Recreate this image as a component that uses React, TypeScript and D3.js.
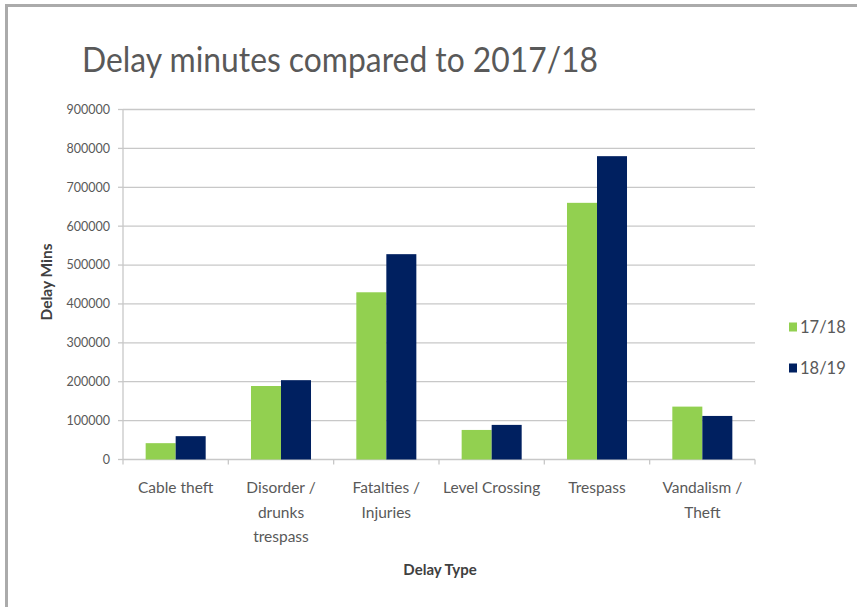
import React from "react";
import * as d3 from "d3";

// Delay minutes by delay type, two financial years
const categories: string[] = [
  "Cable theft",
  "Disorder /\ndrunks\ntrespass",
  "Fatalties /\nInjuries",
  "Level Crossing",
  "Trespass",
  "Vandalism /\nTheft",
];
const seriesNames: string[] = ["17/18", "18/19"];
const values1718: number[] = [42000, 189000, 430000, 76000, 660000, 136000];
const values1819: number[] = [60000, 204000, 528000, 89000, 780000, 112000];
const yTicks: number[] = [0, 100000, 200000, 300000, 400000, 500000, 600000, 700000, 800000, 900000];
const seriesColors: string[] = ["#92d050", "#002060"];

const W = 857;
const H = 607;
const plot = { left: 123, right: 755, top: 109.5, bottom: 459.5 };
const FONT = "Lato, 'Open Sans', sans-serif";
const TEXT = "#595959";

export default function App() {
  const x0 = d3.scaleBand<string>().domain(categories).range([plot.left, plot.right]).padding(0);
  const x1 = d3
    .scaleBand<string>()
    .domain(seriesNames)
    .range([0, x0.bandwidth()])
    .paddingInner(0)
    .paddingOuter(0.755);
  const y = d3.scaleLinear().domain([0, 900000]).range([plot.bottom, plot.top]);

  const seriesData = [values1718, values1819];
  const boundaries = [...categories.map((c) => x0(c) as number), plot.right];

  return (
    <svg
      width={W}
      height={H}
      style={{ position: "absolute", left: 0, top: 0, background: "#fff" }}
      fontFamily={FONT}
    >
      {/* frame edges */}
      <line x1={5} x2={W} y1={5.5} y2={5.5} stroke="#ababab" strokeWidth={3} />
      <line x1={6.5} x2={6.5} y1={4} y2={H} stroke="#ababab" strokeWidth={3} />

      <text x={82} y={72} fontSize={35} fill={TEXT} textLength={516} lengthAdjust="spacingAndGlyphs">
        Delay minutes compared to 2017/18
      </text>

      {/* gridlines and y ticks */}
      {yTicks.map((t) => (
        <g key={t}>
          {t > 0 && (
            <line x1={plot.left} x2={plot.right} y1={y(t)} y2={y(t)} stroke="#c8c8c8" strokeWidth={1.3} />
          )}
          <line x1={plot.left - 5} x2={plot.left} y1={y(t)} y2={y(t)} stroke="#c8c8c8" strokeWidth={1.3} />
          <text x={110} y={y(t)} dy="0.35em" textAnchor="end" fontSize={12.5} fill={TEXT}>
            {t}
          </text>
        </g>
      ))}

      {/* axes */}
      <line x1={plot.left} x2={plot.left} y1={plot.top} y2={plot.bottom} stroke="#c8c8c8" strokeWidth={1.3} />
      <line x1={plot.left} x2={plot.right} y1={plot.bottom} y2={plot.bottom} stroke="#c8c8c8" strokeWidth={1.3} />
      {boundaries.map((bx, i) => (
        <line key={i} x1={bx} x2={bx} y1={plot.bottom} y2={plot.bottom + 5} stroke="#c8c8c8" strokeWidth={1.3} />
      ))}

      {/* bars */}
      {seriesData.map((vals, si) =>
        vals.map((v, ci) => (
          <rect
            key={`${si}-${ci}`}
            x={(x0(categories[ci]) as number) + (x1(seriesNames[si]) as number)}
            y={y(v)}
            width={x1.bandwidth()}
            height={plot.bottom - y(v)}
            fill={seriesColors[si]}
          />
        ))
      )}

      {/* category labels */}
      {categories.map((c) => {
        const cx = (x0(c) as number) + x0.bandwidth() / 2;
        return (
          <text key={c} x={cx} y={493} textAnchor="middle" fontSize={15.5} fill={TEXT}>
            {c.split("\n").map((line, li) => (
              <tspan key={li} x={cx} dy={li === 0 ? 0 : 24.5}>
                {line}
              </tspan>
            ))}
          </text>
        );
      })}

      {/* axis titles */}
      <text x={440} y={575} textAnchor="middle" fontSize={15} fontWeight="bold" fill="#404040">
        Delay Type
      </text>
      <text
        transform="translate(52,282) rotate(-90)"
        textAnchor="middle"
        fontSize={15.5}
        fontWeight="bold"
        fill="#404040"
      >
        Delay Mins
      </text>

      {/* legend */}
      {seriesNames.map((s, i) => {
        const ly = 327 + i * 41;
        return (
          <g key={s}>
            <rect x={789} y={ly - 4.5} width={8} height={9} fill={seriesColors[i]} />
            <text x={800} y={ly} dy="0.35em" fontSize={16.5} fill={TEXT}>
              {s}
            </text>
          </g>
        );
      })}
    </svg>
  );
}
